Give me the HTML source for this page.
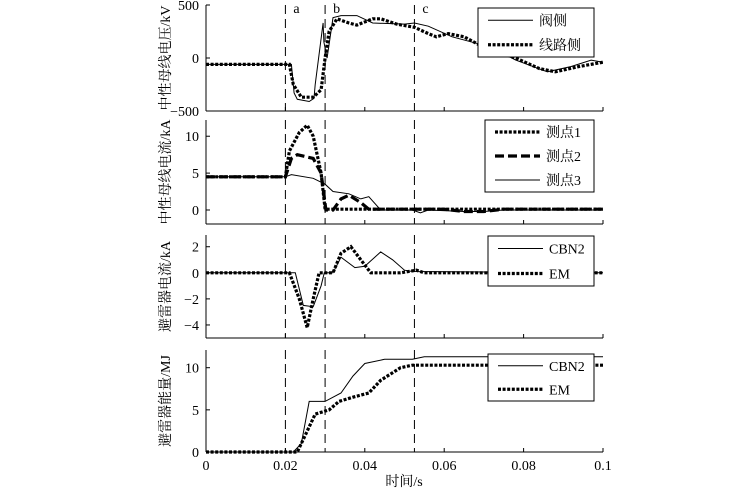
<!DOCTYPE html>
<html><head><meta charset="utf-8"><style>
body{margin:0;background:#fff}
svg{display:block;font-family:"Liberation Serif","Noto Serif CJK SC",serif}
</style></head><body>
<svg id="c" width="746" height="493" viewBox="0 0 746 493"></svg>
<script>
// ---- data ----
const p1Ticks=[500,0,-500];
const p1ValveT=[0,0.0215,0.0222,0.023,0.026,0.0272,0.0275,0.0295,0.0297,0.0305,0.032,0.034,0.038,0.042,0.05,0.0525,0.056,0.062,0.069,0.072,0.078,0.086,0.092,0.097,0.1];
const p1ValveV=[-60,-60,-330,-390,-410,-380,-250,330,150,0,380,400,400,330,320,330,300,200,130,100,-20,-130,-80,-20,-40];
const p1LineT=[0,0.021,0.022,0.024,0.027,0.029,0.030,0.031,0.033,0.036,0.038,0.042,0.044,0.048,0.0525,0.056,0.058,0.061,0.065,0.071,0.078,0.084,0.088,0.094,0.1];
const p1LineV=[-60,-60,-250,-370,-370,-300,0,250,370,330,310,370,370,320,290,230,200,230,200,80,0,-100,-130,-80,-40];
const p2Ticks=[10,5,0];
const p2AT=[0,0.020,0.021,0.0235,0.0255,0.027,0.029,0.030,0.1];
const p2AV=[4.5,4.5,8,10.5,11.5,10,5,0.1,0.1];
const p2BT=[0,0.020,0.0215,0.023,0.027,0.029,0.0302,0.032,0.034,0.036,0.039,0.041,0.06,0.065,0.07,0.075,0.1];
const p2BV=[4.5,4.5,7,7.5,7,5,0,0,1.5,2,1,0.1,0.1,-0.2,-0.2,0.1,0.1];
const p2CT=[0,0.020,0.0215,0.027,0.030,0.032,0.036,0.039,0.041,0.044,0.052,0.054,0.056,0.065,0.07,0.075,0.1];
const p2CV=[4.5,4.5,4.8,4.3,3.5,2.5,2.2,1.5,1.8,0,0,-0.4,0,-0.2,-0.2,0,0];
const p3Ticks=[2,0,-2,-4];
const p3CbnT=[0,0.0225,0.0245,0.027,0.029,0.0298,0.032,0.034,0.0375,0.040,0.044,0.047,0.050,0.052,0.1];
const p3CbnV=[0,0,-2.5,-2.6,-1,0,0,1.2,0.4,0.5,1.6,1,0.2,0.1,0];
const p3EmT=[0,0.021,0.0235,0.0255,0.027,0.0285,0.032,0.034,0.0365,0.039,0.0415,0.049,0.053,0.055,0.1];
const p3EmV=[0,0,-2,-4.2,-2,0,0,1.5,2,1,0,0,0.2,0,0];
const p4Ticks=[10,5,0];
const p4CbnT=[0,0.022,0.024,0.026,0.030,0.034,0.037,0.040,0.045,0.052,0.055,0.1];
const p4CbnV=[0,0,1,6,6,7,9,10.5,11,11,11.3,11.3];
const p4EmT=[0,0.023,0.025,0.0275,0.031,0.0335,0.037,0.041,0.044,0.049,0.052,0.1];
const p4EmV=[0,0,2,4.5,5,6,6.5,7,8.5,10,10.3,10.3];
const xTicks=[0,0.02,0.04,0.06,0.08,0.1];
const xTickLabels=["0","0.02","0.04","0.06","0.08","0.1"];
const markers=[0.02,0.03,0.0525];
const markerLabels=["a","b","c"];

// ---- drawing ----
const NS="http://www.w3.org/2000/svg";
const svg=document.getElementById('c');
const X0=206,X1=603;
const xs=t=>X0+(t/0.1)*(X1-X0);
function el(tag,attrs,parent){const e=document.createElementNS(NS,tag);for(const k in attrs)e.setAttribute(k,attrs[k]);(parent||svg).appendChild(e);return e;}
const STY={thin:{w:1,d:null},dot:{w:3.2,d:"3 1.6"},dash:{w:3.2,d:"9 4"}};
const panels=[
 {top:5,bot:111,ymin:-500,ymax:500,ticks:p1Ticks,label:"中性母线电压/kV",name:"voltage",
  series:[{t:p1ValveT,v:p1ValveV,s:"thin",n:"阀侧"},{t:p1LineT,v:p1LineV,s:"dot",n:"线路侧"}],
  leg:[478,8,116,49]},
 {top:120,bot:224,ymin:-1.9,ymax:12.2,ticks:p2Ticks,label:"中性母线电流/kA",name:"current",
  series:[{t:p2AT,v:p2AV,s:"dot",n:"测点1"},{t:p2BT,v:p2BV,s:"dash",n:"测点2"},{t:p2CT,v:p2CV,s:"thin",n:"测点3"}],
  leg:[485,120,109,72]},
 {top:235,bot:338,ymin:-5,ymax:2.9,ticks:p3Ticks,label:"避雷器电流/kA",name:"arrester-current",
  series:[{t:p3CbnT,v:p3CbnV,s:"thin",n:"CBN2"},{t:p3EmT,v:p3EmV,s:"dot",n:"EM"}],
  leg:[488,236,106,50]},
 {top:350,bot:452,ymin:0,ymax:12.1,ticks:p4Ticks,label:"避雷器能量/MJ",name:"arrester-energy",
  series:[{t:p4CbnT,v:p4CbnV,s:"thin",n:"CBN2"},{t:p4EmT,v:p4EmV,s:"dot",n:"EM"}],
  leg:[488,354,106,47]}
];
panels.forEach((p,pi)=>{
 const g=el('g',{});
 
 
 const ys=v=>p.bot-(v-p.ymin)/(p.ymax-p.ymin)*(p.bot-p.top);
 el('line',{x1:X0,y1:p.top,x2:X0,y2:p.bot,stroke:'#000','stroke-width':1},g);
 el('line',{x1:X0,y1:p.bot,x2:X1,y2:p.bot,stroke:'#000','stroke-width':1},g);
 xTicks.forEach((t,i)=>{
  el('line',{x1:xs(t),y1:p.bot,x2:xs(t),y2:p.bot-4,stroke:'#000'},g);
  if(pi===3){const tx=el('text',{x:xs(t),y:470,'text-anchor':'middle','font-size':14},g);tx.textContent=xTickLabels[i];
   }
 });
 p.ticks.forEach(v=>{
  el('line',{x1:X0,y1:ys(v),x2:X0+4,y2:ys(v),stroke:'#000'},g);
  const tx=el('text',{x:X0-7,y:ys(v)+5,'text-anchor':'end','font-size':14},g);
  tx.textContent=v<0?'\u2212'+(-v):String(v);
  
  
 });
 const yl=el('text',{x:0,y:0,'text-anchor':'middle','font-size':14,transform:`translate(170,${(p.top+p.bot)/2}) rotate(-90)`},g);
 yl.textContent=p.label;
 
 
 markers.forEach((m,i)=>{
  const l=el('line',{x1:xs(m),y1:p.top,x2:xs(m),y2:p.bot,stroke:'#000','stroke-width':1,'stroke-dasharray':'9 5'},g);
  
  
  if(pi===0){const tx=el('text',{x:xs(m)+8,y:13,'font-size':14},g);tx.textContent=markerLabels[i];
   }
 });
 p.series.forEach(s=>{
  const st=STY[s.s];
  const d=s.t.map((t,i)=>(i?'L':'M')+xs(t).toFixed(1)+','+ys(s.v[i]).toFixed(1)).join('');
  const a={d:d,fill:'none',stroke:'#000','stroke-width':st.w};
  if(st.d)a['stroke-dasharray']=st.d;
  const path=el('path',a,g);
  
  
 });
 const [lx,ly,lw,lh]=p.leg;
 const lg=el('g',{},g);
 
 
 el('rect',{x:lx,y:ly,width:lw,height:lh,fill:'#fff',stroke:'#000'},lg);
 const n=p.series.length, step=lh/n;
 p.series.forEach((s,i)=>{
  const yy=ly+step*(i+0.5);
  const st=STY[s.s];
  const a={x1:lx+10,y1:yy,x2:lx+55,y2:yy,stroke:'#000','stroke-width':st.w};
  if(st.d)a['stroke-dasharray']=st.d;
  el('line',a,lg);
  const tx=el('text',{x:lx+61,y:yy+5,'font-size':14},lg);
  tx.textContent=s.n;
  
  
 });
});
const xl=el('text',{x:404,y:486,'text-anchor':'middle','font-size':14});
xl.textContent='时间/s';


</script>
</body></html>
